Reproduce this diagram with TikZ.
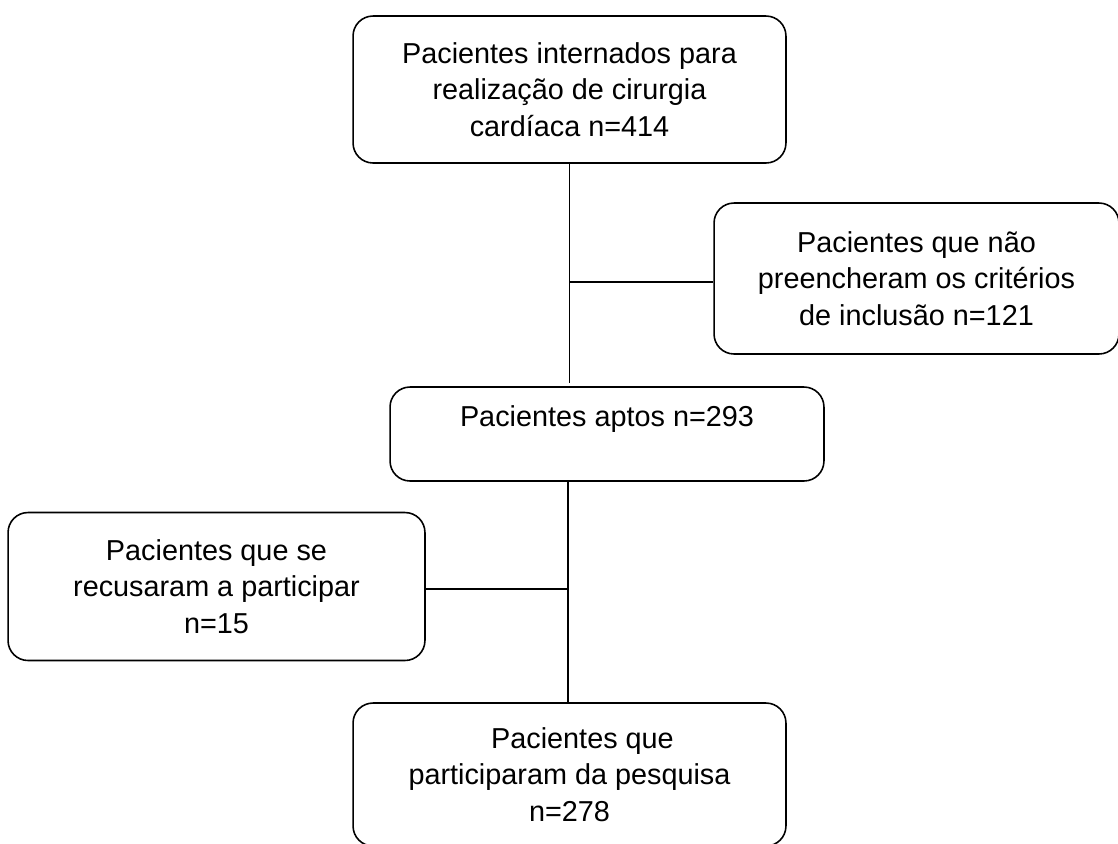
\documentclass[tikz,border=0pt]{standalone}
\usepackage{fontspec}
\setmainfont{Liberation Sans}
\usepackage{tikz}
\tikzset{
    caixa/.style={draw=black, line width=0.9pt, rounded corners=0.4cm, align=center,
        inner sep=0pt, font=\fontsize{16.4}{20.8}\selectfont},
    linha/.style={black, line width=0.9pt}
}

\begin{document}
\begin{tikzpicture}[x=0.02cm, y=-0.02cm]
    \useasboundingbox (0,0) rectangle (1118,843);
    \node [caixa, minimum width=8.66cm, minimum height=2.94cm] (internados) at (569.5,89.5)
        {Pacientes internados para\\realização de cirurgia\\cardíaca n=414};
    \node [caixa, minimum width=8.1cm, minimum height=3.02cm] (exclusao) at (916.5,278.5)
        {Pacientes que não\\preencheram os critérios\\de inclusão n=121};
    \node [caixa, minimum width=8.68cm, minimum height=1.88cm] (aptos) at (607,434)
        {Pacientes aptos n=293\\\mbox{}};
    \node [caixa, minimum width=8.34cm, minimum height=2.96cm] (recusa) at (216.5,586.5)
        {Pacientes que se\\recusaram a participar\\n=15};
    \node [caixa, minimum width=8.66cm, minimum height=2.86cm] (final) at (569.5,774.5)
        {\hspace*{0.9em}Pacientes que\\participaram da pesquisa\\n=278};
    % pontos de juncao
    \coordinate (fim1) at (569.5,383);
    \coordinate (junta1) at (569.5,282);
    \coordinate (junta2) at (568,589);
    \draw [linha] (internados.south) -- (fim1);
    \draw [linha] (junta1) -- (exclusao.west |- junta1);
    \draw [linha] (aptos.south -| junta2) -- (final.north -| junta2);
    \draw [linha] (recusa.east |- junta2) -- (junta2);
\end{tikzpicture}
\end{document}
